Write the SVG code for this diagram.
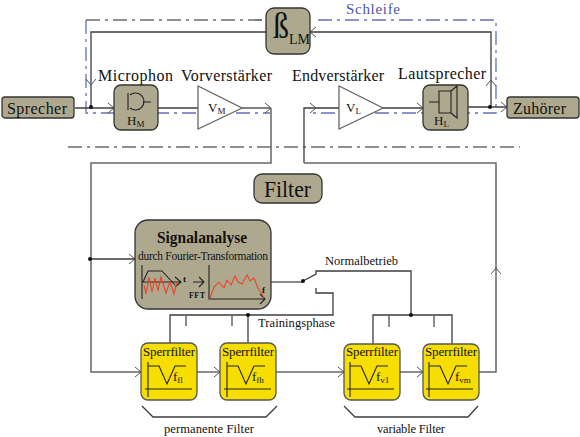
<svg xmlns="http://www.w3.org/2000/svg" width="580" height="437" viewBox="0 0 580 437">
<style>
text{font-family:"Liberation Serif","Times New Roman",serif;fill:#111}
.b{fill:#aea98e;stroke:#333;stroke-width:1.3}
.y{fill:#f5de00;stroke:#555;stroke-width:1.3}
.t{fill:#fff;stroke:#666;stroke-width:1.3}
.l{fill:none;stroke:#3c3c3c;stroke-width:1.3}
.g{fill:none;stroke:#666;stroke-width:1.5}
.a{fill:none;stroke:#555;stroke-width:1}
.i{fill:none;stroke:#222;stroke-width:1.1}
.r{fill:none;stroke:#e8452a;stroke-width:1.1}
.k{fill:none;stroke:#222;stroke-width:1.2;stroke-dasharray:14 5 3 5}
.p{fill:none;stroke:#6570b8;stroke-width:1.3;stroke-dasharray:14 5 3 5}
.d{fill:#111}
.h{font-size:16px}
.s{font-size:12.5px}
.f{font-size:13px}
.n{font-size:13px}
</style>
<defs>
<path id="ar" class="a" d="M-6,-5 L0,0 L-6,5"/>
<path id="ic" class="i" d="M7,19V54M4,46H51M7,23H18L26,41L34,23H45"/>
</defs>
<g id="boundaries">
<path class="k" d="M68,147H520"/>
<path class="k" d="M86,20H266"/>
<path class="p" d="M318,20H496V113H310"/>
<path class="p" d="M86,20V113H270"/>
</g>
<g id="connectors">
<path class="l" d="M75,108H114"/><use href="#ar" x="114" y="108"/>
<path class="l" d="M91,107V32H266"/><use href="#ar" transform="translate(91,85) rotate(90)"/>
<path class="l" d="M158,108H198"/>
<path class="l" d="M242,108H271"/><use href="#ar" x="271" y="108"/>
<path class="g" d="M271,108V163H91V372H141"/><use href="#ar" x="141" y="372"/><use href="#ar" x="135" y="259"/>
<path class="l" d="M91,259H135"/>
<path class="l" d="M383,108H423"/><use href="#ar" x="423" y="108"/>
<path class="l" d="M468,107H507"/><use href="#ar" x="507" y="107"/>
<path class="l" d="M491,107V32H310"/><use href="#ar" transform="translate(310,32) rotate(180)"/><use href="#ar" transform="translate(491,80) rotate(-90)"/>
<path class="l" d="M304,163V108H339"/><use href="#ar" x="316" y="108"/>
<path class="g" d="M304,163H496V372H479"/><use href="#ar" transform="translate(496,268) rotate(-90)"/>
<path class="g" d="M197,372H220"/><use href="#ar" x="220" y="372"/>
<path class="g" d="M276,372H344"/><use href="#ar" x="344" y="372"/>
<path class="g" d="M400,372H423"/><use href="#ar" x="423" y="372"/>
<path class="g" d="M271,282H303"/>
<path class="l" d="M303,281L316,274V271H411V315"/>
<path class="l" d="M373,344V315H452V344"/>
<path class="g" d="M389,315V327M434,315V327"/>
<path class="l" d="M316,288V293H333V315H170V343M248,315V343"/>
<path class="g" d="M186,315V326M232,315V326"/>
<path class="l" d="M142,406L153,417H266L277,406"/>
<path class="l" d="M344,406L355,417H468L478,406"/>
<circle class="d" cx="91" cy="107" r="2"/>
<circle class="d" cx="490" cy="107" r="2"/>
<circle class="d" cx="90" cy="259" r="2"/>
<circle class="d" cx="303" cy="281" r="2"/>
<circle class="d" cx="411" cy="315" r="2"/>
<circle class="d" cx="248" cy="315" r="2"/>
</g>
<g id="schleife"><text x="346" y="14" textLength="54" style="fill:#4a55a8;font-size:15px">Schleife</text></g>
<g id="beta">
<rect class="b" x="266" y="8" width="44" height="46" rx="8"/>
<text x="273" y="38" textLength="16" lengthAdjust="spacingAndGlyphs" style="font-size:36px">ß</text>
<text x="289" y="44" style="font-size:14px">LM</text>
</g>
<g id="sprecher">
<rect class="b" x="2" y="97" width="72" height="21" rx="3"/>
<text class="h" x="7" y="114" textLength="60">Sprecher</text>
</g>
<g id="zuhoerer">
<rect class="b" x="507" y="97" width="72" height="21" rx="3"/>
<text class="h" x="513" y="114" textLength="53">Zuhörer</text>
</g>
<g id="microphon">
<text class="h" x="98" y="81" textLength="75">Microphon</text>
<rect class="b" x="114" y="85" width="44" height="45" rx="7"/>
<path class="i" d="M128,93V110M130,95A8.5,8.5 0 1 1 130,108M143,102H151"/>
<text class="n" x="127" y="125">H<tspan font-size="9" dy="1.5">M</tspan></text>
</g>
<g id="vorverstaerker">
<text class="h" x="181" y="81" textLength="91">Vorverstärker</text>
<path class="t" d="M198,86V129L242,108Z"/>
<text class="n" x="208" y="112">V<tspan font-size="9" dy="1.5">M</tspan></text>
</g>
<g id="endverstaerker">
<text class="h" x="292" y="81" textLength="92">Endverstärker</text>
<path class="t" d="M339,86V129L383,108Z"/>
<text class="n" x="346" y="112">V<tspan font-size="9" dy="1.5">L</tspan></text>
</g>
<g id="lautsprecher">
<text class="h" x="398" y="79" textLength="88">Lautsprecher</text>
<rect class="b" x="423" y="85" width="45" height="45" rx="7"/>
<path class="i" d="M429,102H439M439,91H451V113H439ZM451,91L457,86V118L451,113"/>
<text class="n" x="434" y="125">H<tspan font-size="9" dy="1.5">L</tspan></text>
</g>
<g id="filter-title">
<rect class="b" x="254" y="174" width="68" height="29" rx="8"/>
<text x="264" y="197" textLength="47" lengthAdjust="spacingAndGlyphs" style="font-size:24px">Filter</text>
</g>
<g id="signalanalyse">
<rect class="b" x="135" y="220" width="136" height="89" rx="13"/>
<text x="157" y="243" textLength="90" lengthAdjust="spacingAndGlyphs" style="font-size:17px;font-weight:bold">Signalanalyse</text>
<text x="138" y="260" textLength="130" style="font-size:11.5px">durch Fourier-Transformation</text>
<path class="i" d="M142,265V299M142,282H180M175,277L181,282L175,287"/>
<path class="i" d="M143,282L148,271H162L175,285" stroke-width=".8"/>
<path class="r" d="M144,285L146,294L149,277L152,292L155,278L158,291L161,277L166,293L170,282L174,294L177,282"/>
<text x="183" y="282" style="font-size:9px;font-weight:bold">t</text>
<path class="i" d="M193,282H204M199,277L204,282L199,287"/>
<text x="189" y="298" textLength="16" style="font-size:8px;font-weight:bold">FFT</text>
<path class="i" d="M209,265V299H265M260,294L265,299L260,304"/>
<path class="r" d="M210,298L214,287L219,282L222,286L224,288L227,280L231,285L235,276L238,282L242,284L247,275L250,281L254,278L258,288L262,294L264,298"/>
<text x="262" y="293" style="font-size:9px;font-weight:bold">f</text>
</g>
<g id="filter-f1">
<rect class="y" x="141" y="343" width="56" height="57" rx="7"/>
<text class="f" x="143" y="356" textLength="52">Sperrfilter</text>
<use href="#ic" x="141" y="343"/>
<text class="n" x="173" y="381">f<tspan font-size="9" dy="2">fl</tspan></text>
</g>
<g id="filter-fh">
<rect class="y" x="220" y="343" width="56" height="57" rx="7"/>
<text class="f" x="222" y="356" textLength="52">Sperrfilter</text>
<use href="#ic" x="220" y="343"/>
<text class="n" x="252" y="381">f<tspan font-size="9" dy="2">fh</tspan></text>
</g>
<g id="filter-v1">
<rect class="y" x="344" y="344" width="56" height="56" rx="7"/>
<text class="f" x="346" y="356" textLength="52">Sperrfilter</text>
<use href="#ic" x="343" y="343"/>
<text class="n" x="376" y="381">f<tspan font-size="9" dy="2">v1</tspan></text>
</g>
<g id="filter-vm">
<rect class="y" x="423" y="344" width="56" height="56" rx="7"/>
<text class="f" x="425" y="356" textLength="52">Sperrfilter</text>
<use href="#ic" x="422" y="343"/>
<text class="n" x="455" y="381">f<tspan font-size="9" dy="2">vm</tspan></text>
</g>
<g id="labels">
<text class="s" x="325" y="265" textLength="73">Normalbetrieb</text>
<text class="s" x="258" y="327" textLength="77">Trainingsphase</text>
<text class="s" x="164" y="433" textLength="90">permanente Filter</text>
<text class="s" x="377" y="433" textLength="68">variable Filter</text>
</g>
</svg>
